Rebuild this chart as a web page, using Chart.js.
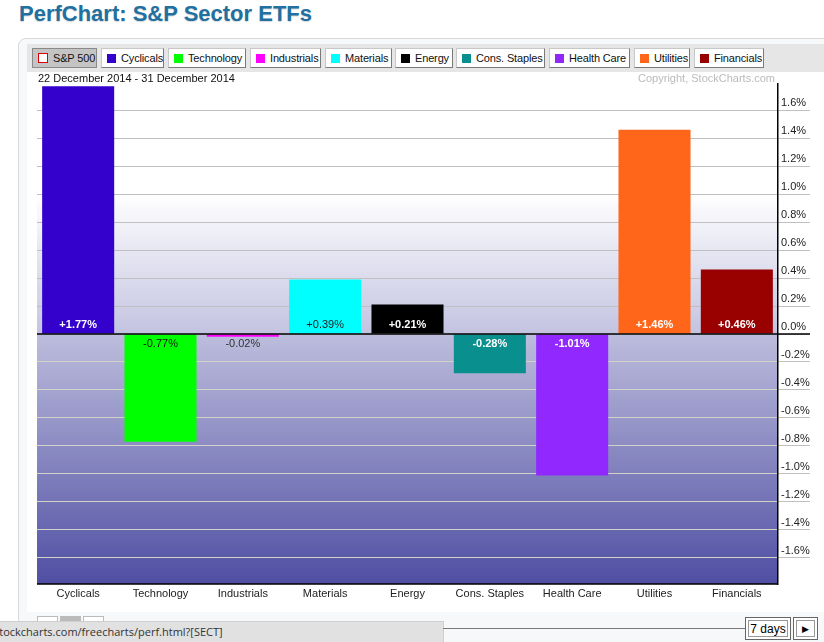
<!DOCTYPE html>
<html>
<head>
<meta charset="utf-8">
<script src="https://cdn.jsdelivr.net/npm/chart.js@4.4.1/dist/chart.umd.min.js"></script>
<style>
  body { margin: 0; width: 824px; height: 642px; overflow: hidden; background: #fff; font-family: "Liberation Sans", Arial, sans-serif; position: relative; }
  #title { position: absolute; left: 19px; top: 1px; font-size: 22px; font-weight: bold; color: #21709f; text-shadow: 0 1px 1px rgba(0,0,0,0.15); }
  #panel { position: absolute; left: 18px; top: 38px; width: 820px; height: 620px; border: 1px solid #d8d8d8; border-radius: 8px; background: #f7f8fa; }
  #toolbar { position: absolute; left: 27px; top: 44px; width: 800px; height: 28px; background: #e6e6e6; }
  #plotbg { position: absolute; left: 27px; top: 72px; width: 800px; height: 540px; background: #fff; }
  .btn { position: absolute; top: 4px; height: 20px; background: #fff; border: 1px solid #c8c8c8; border-right-color: #7a7a7a; border-bottom-color: #7a7a7a; font-size: 11px; letter-spacing: -0.15px; line-height: 18px; padding: 0 0 0 5px; white-space: nowrap; color: #111; box-sizing: border-box; }
  .btn.sel { background: #c4c4c4; border-color: #8a8a8a; }
  .sw { display: inline-block; width: 9px; height: 9px; margin-right: 5px; vertical-align: -1px; box-sizing: border-box; }
  #range { position: absolute; left: 38px; top: 72px; font-size: 11px; color: #111; }
  #copy { position: absolute; right: 49px; top: 72px; font-size: 11px; color: #bbb; }
  #wrap { position: absolute; left: 27px; top: 72px; width: 797px; height: 538px; }
  #status { position: absolute; left: 0; top: 621px; width: 443px; height: 21px; background: #e1e1e1; border-top: 1px solid #cfcfcf; border-right: 1px solid #cfcfcf; font-family: "Open Sans", "Noto Sans", sans-serif; font-size: 11px; line-height: 20px; color: #333; overflow: hidden; white-space: nowrap; }
  #status span { position: relative; left: -6px; }
  #rule { position: absolute; left: 443px; top: 628px; width: 302px; height: 1px; background: #777; }
  .nav { position: absolute; top: 617px; height: 23px; border: 1px solid #666; box-shadow: inset 0 0 0 2px #fff, inset 0 0 0 3px #999; background: #fff; font-size: 12px; line-height: 22px; text-align: center; box-sizing: border-box; }
  .mini { position: absolute; top: 616px; width: 19px; height: 8px; border: 1px solid #bbb; background: #fff; }
</style>
</head>
<body>
<div id="title">PerfChart: S&amp;P Sector ETFs</div>
<div id="panel"></div>
<div id="plotbg"></div>
<div id="toolbar"></div>
<div id="wrap"><canvas id="chart"></canvas></div>
<div id="range">22 December 2014 - 31 December 2014</div>
<div id="copy">Copyright, StockCharts.com</div>
<div class="mini" style="left:37px"></div>
<div class="mini" style="left:60px;background:#bbb"></div>
<div class="mini" style="left:83px"></div>
<div id="status"><span>stockcharts.com/freecharts/perf.html?[SECT]</span></div>
<div id="rule"></div>
<div class="nav" style="left:745px;width:46px">7 days</div>
<div class="nav" style="left:793px;width:25px;font-size:9px">&#9654;</div>
<script>
// Sector performance, 22 Dec 2014 - 31 Dec 2014 (% change)
const categories = ['Cyclicals', 'Technology', 'Industrials', 'Materials', 'Energy', 'Cons. Staples', 'Health Care', 'Utilities', 'Financials'];
const changes = [1.77, -0.77, -0.02, 0.39, 0.21, -0.28, -1.01, 1.46, 0.46];
const barColors = ['#3300cc', '#00ff00', '#ff00ff', '#00ffff', '#000000', '#0a8f8f', '#9129ff', '#ff6619', '#990000'];
const labelColors = ['#fff', '#111', '#333', '#222', '#fff', '#fff', '#fff', '#fff', '#fff'];
const yTicks = [-1.6, -1.4, -1.2, -1.0, -0.8, -0.6, -0.4, -0.2, 0.0, 0.2, 0.4, 0.6, 0.8, 1.0, 1.2, 1.4, 1.6];
const yMin = -1.786, yMax = 1.786;

// Legend toolbar buttons
const buttonLefts = [32, 101, 168, 250, 325, 395, 456, 549, 634, 694];
const buttonWidths = [65, 63, 78, 71, 67, 58, 89, 81, 56, 70];
const toolbar = document.getElementById('toolbar');
['S&P 500'].concat(categories).forEach((name, i) => {
  const b = document.createElement('div');
  b.className = 'btn' + (i === 0 ? ' sel' : '');
  b.style.left = (buttonLefts[i] - 27) + 'px';
  b.style.width = buttonWidths[i] + 'px';
  const sw = i === 0
    ? '<span class="sw" style="background:#fff;border:1px solid #e00000;width:10px;height:10px"></span>'
    : `<span class="sw" style="background:${barColors[i - 1]}"></span>`;
  b.innerHTML = sw + name.replace('&', '&amp;');
  toolbar.appendChild(b);
});

// white -> lavender above zero, lavender -> blue below zero, plus value labels
const backdrop = {
  id: 'backdrop',
  beforeDraw(chart) {
    const { ctx, chartArea: a, scales: { y } } = chart;
    const z = y.getPixelForValue(0);
    const one = y.getPixelForValue(1.0);
    ctx.save();
    ctx.fillStyle = '#fff';
    ctx.fillRect(a.left, a.top, a.width, one - a.top);
    let g = ctx.createLinearGradient(0, one, 0, z);
    g.addColorStop(0, '#ffffff');
    g.addColorStop(1, '#c3c3e1');
    ctx.fillStyle = g;
    ctx.fillRect(a.left, one, a.width, z - one);
    g = ctx.createLinearGradient(0, z, 0, a.bottom);
    g.addColorStop(0, '#bdbddd');
    g.addColorStop(1, '#4f4ea3');
    ctx.fillStyle = g;
    ctx.fillRect(a.left, z, a.width, a.bottom - z);
    ctx.restore();
  },
  afterDraw(chart) {
    const { ctx, chartArea: a, scales: { y } } = chart;
    const z = y.getPixelForValue(0);
    const meta = chart.getDatasetMeta(0);
    ctx.save();
    ctx.textAlign = 'center';
    ctx.textBaseline = 'middle';
    meta.data.forEach((bar, i) => {
      const v = changes[i];
      const txt = (v > 0 ? '+' : '') + v.toFixed(2) + '%';
      const white = labelColors[i] === '#fff';
      ctx.font = (white ? 'bold ' : '') + '11px "Liberation Sans", Arial, sans-serif';
      ctx.fillStyle = labelColors[i];
      ctx.fillText(txt, bar.x, v >= 0 ? z - 9 : z + 10);
    });
    ctx.strokeStyle = '#000';
    ctx.lineWidth = 1.5;
    ctx.beginPath();
    // zero line
    ctx.moveTo(a.left, z);
    ctx.lineTo(a.right + 32, z);
    // bottom edge
    ctx.moveTo(a.left, a.bottom);
    ctx.lineTo(a.right, a.bottom);
    ctx.stroke();
    ctx.restore();
  }
};

new Chart(document.getElementById('chart'), {
  type: 'bar',
  data: {
    labels: categories,
    datasets: [{
      data: changes,
      backgroundColor: barColors,
      borderWidth: 0,
      barPercentage: 0.875,
      categoryPercentage: 1.0
    }]
  },
  options: {
    responsive: true,
    maintainAspectRatio: false,
    animation: false,
    layout: { padding: { top: 12, left: 10, right: 0, bottom: 0 } },
    plugins: { legend: { display: false }, tooltip: { enabled: false } },
    scales: {
      x: {
        grid: { display: false, drawTicks: false },
        border: { display: false },
        ticks: { color: '#222', font: { family: '"Liberation Sans", Arial, sans-serif', size: 11 }, padding: 3, maxRotation: 0 },
        afterFit(scale) { scale.height = 26; }
      },
      y: {
        position: 'right',
        min: yMin,
        max: yMax,
        afterBuildTicks(scale) { scale.ticks = yTicks.map(v => ({ value: v })); },
        grid: {
          color: ctx => ctx.tick && ctx.tick.value < 0 ? '#d2d2c6' : '#c0c0c0',
          tickLength: 32,
          tickColor: '#c0c0c0'
        },
        border: { color: '#000', width: 1.5 },
        ticks: {
          color: '#222',
          font: { family: '"Liberation Sans", Arial, sans-serif', size: 11 },
          padding: -29,
          labelOffset: -7,
          callback: v => v.toFixed(1) + '%'
        },
        afterFit(scale) { scale.width = 46; }
      }
    }
  },
  plugins: [backdrop]
});
</script>
</body>
</html>
